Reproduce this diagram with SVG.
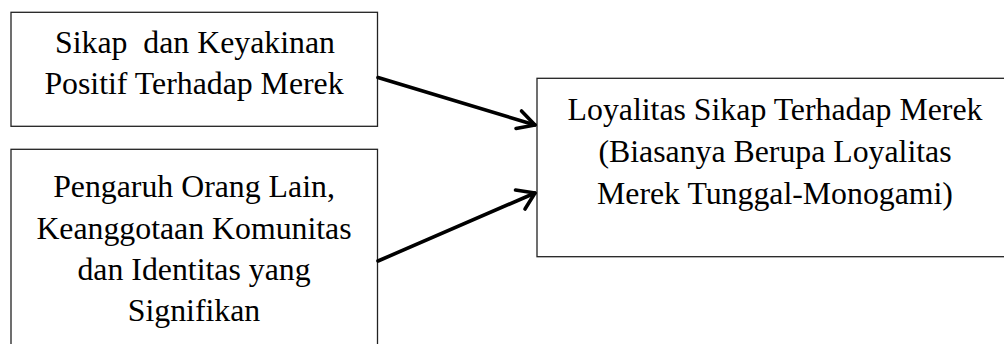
<svg xmlns="http://www.w3.org/2000/svg" width="1004" height="344" viewBox="0 0 1004 344">
<style>
.box{fill:#fff;stroke:#222;stroke-width:1.3}
.t{font-family:"Liberation Serif","Times New Roman",serif;font-size:31.8px;fill:#000;text-anchor:middle;white-space:pre}
.c{fill:none;stroke:#000;stroke-width:3.6;stroke-linecap:round;stroke-linejoin:round}
</style>
<rect width="1004" height="344" fill="#fff"/>
<g id="node1">
<rect class="box" x="11" y="12.3" width="366.5" height="114"/>
<text class="t" x="195" y="53.3" xml:space="preserve">Sikap  dan Keyakinan</text>
<text class="t" x="194" y="94.3">Positif Terhadap Merek</text>
</g>
<g id="node2">
<rect class="box" x="11" y="149.3" width="366.5" height="220"/>
<text class="t" x="194" y="197.3">Pengaruh Orang Lain,</text>
<text class="t" x="194" y="238.5">Keanggotaan Komunitas</text>
<text class="t" x="194" y="279.8">dan Identitas yang</text>
<text class="t" x="194" y="320.5">Signifikan</text>
</g>
<g id="node3">
<rect class="box" x="537" y="78.3" width="475" height="178.4"/>
<text class="t" x="775" y="120">Loyalitas Sikap Terhadap Merek</text>
<text class="t" x="775" y="161.8">(Biasanya Berupa Loyalitas</text>
<text class="t" x="775" y="203.5">Merek Tunggal-Monogami)</text>
</g>
<g id="connectors">
<path class="c" d="M378,77.5 L535,125"/>
<path class="c" d="M521.5,111 L535,125 L516,128.5"/>
<path class="c" d="M378,261 L535,193"/>
<path class="c" d="M515.5,190 L535,193 L525,209"/>
</g>
</svg>
